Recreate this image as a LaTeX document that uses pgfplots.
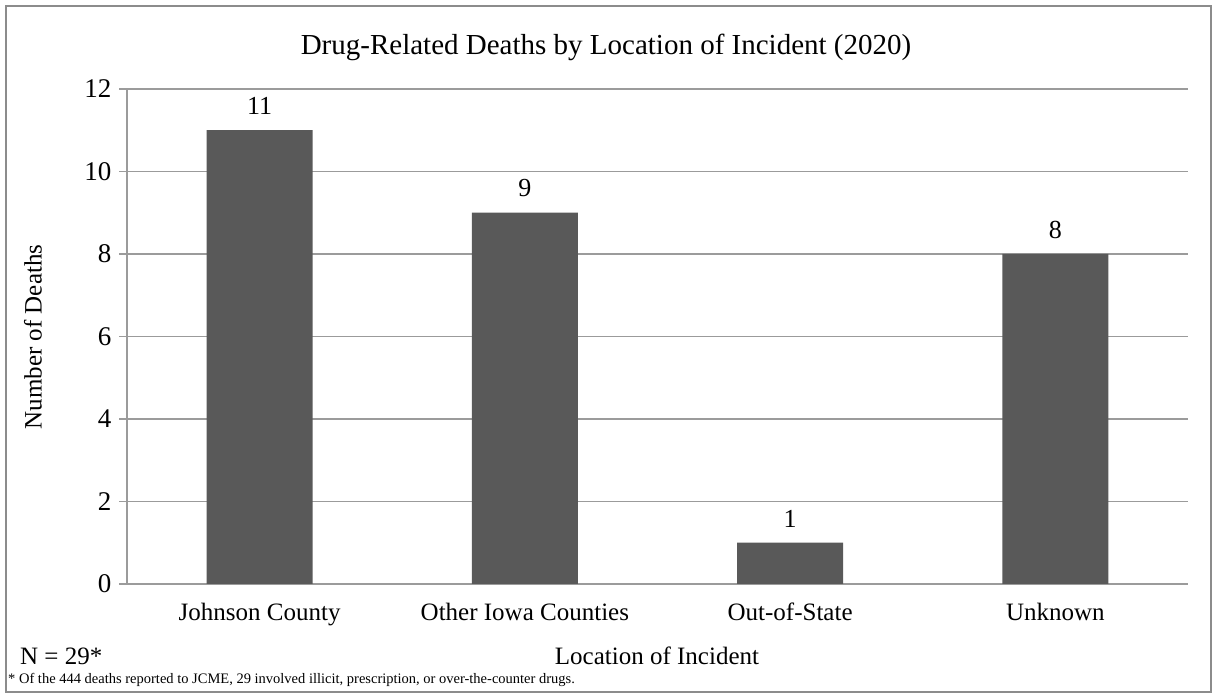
\documentclass[border=0pt]{standalone}
\usepackage{fontspec}
\setmainfont{Liberation Serif}
\usepackage{pgfplots}
\pgfplotsset{compat=1.18}
\definecolor{barc}{RGB}{89,89,89}
\definecolor{gridc}{RGB}{155,155,155}
\definecolor{framec}{RGB}{140,140,140}
\newcommand{\fs}[1]{\fontsize{#1bp}{#1bp}\selectfont}
\begin{document}
\begin{tikzpicture}[x=1bp,y=1bp]
\useasboundingbox (0,0) rectangle (1217,698);
\draw[framec, line width=1.5bp] (6,6) rectangle (1211,692);
\begin{axis}[
  at={(127bp,114bp)}, anchor=south west,
  scale only axis, width=1061bp, height=495bp,
  xmin=-0.5, xmax=3.5, ymin=0, ymax=12,
  ytick={0,2,...,12},
  xtick=data,
  xticklabels={Johnson County, Other Iowa Counties, Out-of-State, Unknown},
  major x tick style={draw=none},
  ymajorgrids, grid style={gridc, line width=1.3bp},
  axis x line*=bottom, axis y line*=left,
  axis line style={gridc, line width=1.3bp},
  y axis line style={-}, x axis line style={-},
  major tick length=8bp, tick align=outside,
  ytick style={gridc, line width=1.3bp},
  xticklabel style={font=\fs{25}, text height=18bp, text depth=6bp, yshift=-7bp},
  yticklabel style={font=\fs{27}, xshift=-4bp},
  /pgf/number format/assume math mode=true,
  ybar, bar width=106bp,
  nodes near coords,
  nodes near coords style={font=\fs{26}, yshift=12bp},
]
\addplot[fill=barc, draw=none] coordinates {(0,11) (1,9) (2,1) (3,8)};
\end{axis}
\node[font=\fs{29}] at (606,651) {Drug-Related Deaths by Location of Incident (2020)};
\node[font=\fs{25}, rotate=90] at (33,361) {Number of Deaths};
\node[font=\fs{25}, anchor=base] at (657,33) {Location of Incident};
\node[font=\fs{25}, anchor=base west, inner sep=0] at (20,33) {N = 29*};
\node[font=\fs{14.5}, anchor=base west, inner sep=0] at (8,14) {* Of the 444 deaths reported to JCME, 29 involved illicit, prescription, or over-the-counter drugs.};
\end{tikzpicture}
\end{document}
